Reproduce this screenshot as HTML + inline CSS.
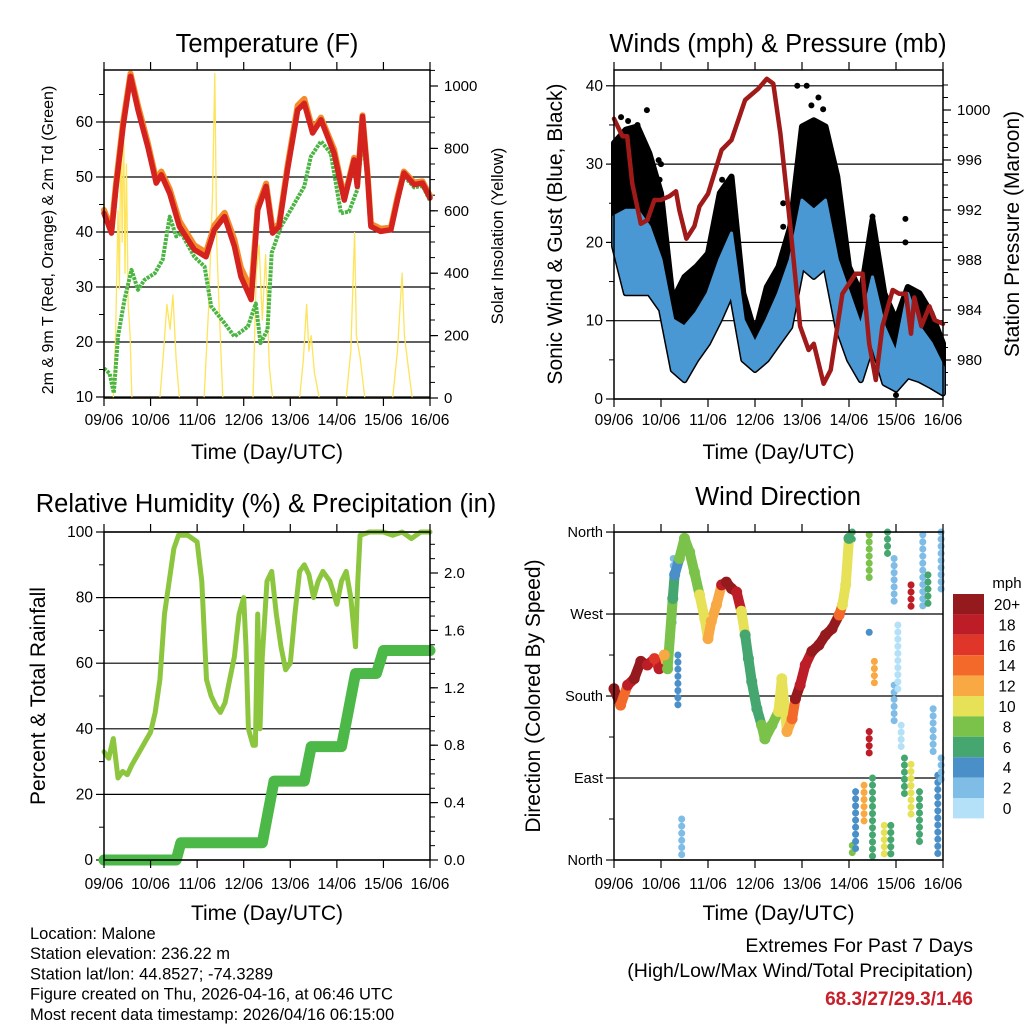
<!DOCTYPE html>
<html><head><meta charset="utf-8"><title>Station Meteogram</title>
<style>
html,body{margin:0;padding:0;background:#fff;}
svg{display:block;font-family:"Liberation Sans",Arial,sans-serif;}
</style></head>
<body>
<svg id="chart" width="1024" height="1024" viewBox="0 0 1024 1024" xmlns="http://www.w3.org/2000/svg">
<rect x="0" y="0" width="1024" height="1024" fill="#fff"/>
</svg>
<script>
// ---------- DATA ----------
const dayLabels = ["09/06","10/06","11/06","12/06","13/06","14/06","15/06","16/06"];

// Temperature panel
const tempTime = [0,0.16,0.26,0.41,0.57,0.73,0.94,1.12,1.23,1.41,1.62,1.94,2.19,2.37,2.59,2.8,2.94,3.16,3.3,3.48,3.62,3.76,3.94,4.16,4.3,4.48,4.66,4.94,5.16,5.37,5.44,5.55,5.66,5.73,5.94,6.16,6.3,6.44,6.66,6.84,7.0];
const tempRed  = [43.4,39.8,48.3,59.2,68.3,62.2,55.5,48.9,50.4,47,41,36.8,35.5,40.4,42.8,37.4,31.9,27.7,44,48.3,39.8,41,51.3,62.2,63.4,58,60.4,54.3,45.8,53.1,48.3,61,50.1,41,40.1,40.4,45.8,50.7,48.6,48.9,46.2];
const tempOrange=[44.0,40.5,49.0,60.0,68.8,63.0,56.2,49.5,51.0,47.8,42,37.6,36.3,41.2,43.5,38.6,33.5,29.5,44.6,48.8,40.5,41.5,52,63,64.2,58.6,60.8,55,46.2,53.5,48.8,61.2,50.5,41.5,40.6,40.8,46.3,51,49,49.2,46.6];
const dewTime = [0,0.12,0.21,0.3,0.44,0.59,0.73,0.87,1.09,1.26,1.41,1.55,1.66,1.94,2.16,2.3,2.59,2.8,3.09,3.26,3.36,3.51,3.6,3.8,4.05,4.3,4.44,4.66,4.87,5.09,5.26,5.44,5.55,5.66,5.73,5.94,6.16,6.3,6.44,6.66,6.84,7.0];
const dewVal  = [15.2,14.3,10.7,21,27.7,33.1,29.5,31.3,32.5,35,42.8,39.2,39.8,35.5,33.7,26.5,23.4,21,22.8,27,19.8,22.2,36.2,41,44.6,48.3,53.7,56.5,54.3,43.4,43.7,47.7,56.8,49.5,41,40,40.3,45.3,50.2,48.1,48.4,45.7];
const solarTime = [0,0.2,0.25,0.3,0.33,0.36,0.39,0.42,0.45,0.48,0.52,0.56,0.6,1.2,1.28,1.35,1.42,1.48,1.55,1.62,2.15,2.25,2.33,2.38,2.42,2.47,2.55,3.2,3.27,3.33,3.4,3.47,3.55,3.62,4.2,4.28,4.35,4.4,4.45,4.52,4.62,5.2,5.3,5.38,5.42,5.5,5.6,6.2,6.3,6.4,6.45,6.55,6.62,7.0];
const solarVal  = [0,0,200,600,350,880,500,900,400,750,300,200,0,0,150,300,220,330,120,0,0,300,650,1040,500,300,0,0,400,490,250,460,100,0,0,120,300,150,200,80,0,0,150,530,200,130,0,0,150,400,200,80,0,0];

// Wind panel
const windTime = [0,0.25,0.5,0.75,1,1.25,1.5,1.75,2,2.25,2.5,2.75,3,3.25,3.5,3.75,4,4.25,4.5,4.75,5,5.25,5.5,5.75,6,6.25,6.5,6.75,7];
const windLow  = [19.5,13.5,13.5,13.5,11.4,3.7,2.4,5,7.1,10.1,13.5,5,3.7,5,7.1,9.2,16.9,15.6,16.9,9.2,5,2.4,7.1,2,1.2,2.9,2.4,1.6,0.7];
const windHigh = [23.3,24.1,24.1,22,17.8,10.1,9.2,11,13.5,17.8,21.2,10.1,7.1,10.1,13.5,17.8,25.4,24.1,25.4,17.8,13.5,9.2,15.6,9.2,5.8,13.5,9.2,7.1,4.1];
const gustHigh = [32.7,34.4,34.8,31.4,26.3,12.6,15.6,16.9,18.6,26.3,28.4,13.5,8.4,14.3,16.9,22,34.8,35.6,34.8,28.4,16.9,13.5,22.9,13.5,10.1,14.3,13.5,11,7.1];
const gustExtraT = [0.7,0.5,0.95,0.97,0.3,2.3,2.55,3.6,3.6,3.9,4.1,4.2,4.35,4.45,5.5,5.5,6.2,6.2,6.0,0.15,1.0];
const gustExtraV = [36.9,35,30.5,28,35.5,28,22.5,25,22,40,40,37.5,38.5,37,23.3,21,23,20,0.5,36,30];
const presTime = [0,0.18,0.28,0.39,0.57,0.71,0.86,1.0,1.18,1.32,1.39,1.54,1.71,1.82,2.0,2.29,2.5,2.79,3.07,3.25,3.39,3.54,3.75,3.96,4.14,4.25,4.46,4.61,4.86,5.14,5.29,5.43,5.57,5.71,5.93,6.07,6.21,6.32,6.39,6.54,6.71,6.82,7.0];
const presVal  = [999.3,997.9,997.9,994.1,990.9,991.2,992.8,992.8,993.1,993.5,992,989.7,990.7,992.3,993.3,996.8,997.6,1000.8,1001.7,1002.5,1002.1,998.1,990.7,982.7,980.8,981.3,978.1,979.2,985.3,986.9,986.9,981.3,978.4,982.7,985.6,985.3,985.3,982.1,985,982.7,984.3,983.2,982.9];

// RH & precip panel
const rhTime = [0,0.1,0.2,0.3,0.4,0.5,0.6,0.8,1.0,1.1,1.2,1.3,1.4,1.5,1.6,1.8,2.0,2.1,2.2,2.3,2.4,2.5,2.6,2.7,2.8,2.9,3.0,3.05,3.1,3.2,3.25,3.3,3.35,3.4,3.5,3.6,3.7,3.8,3.9,4.0,4.1,4.2,4.3,4.4,4.5,4.6,4.7,4.85,5.0,5.1,5.2,5.3,5.4,5.45,5.5,5.7,6.0,6.2,6.4,6.6,6.8,7.0];
const rhVal  = [33,31,37,25,27,26,29,34,39,45,55,75,85,95,99,99,97,85,55,50,47,45,48,55,62,75,80,65,40,35,35,75,40,62,85,88,75,65,58,60,75,88,90,87,80,85,88,85,78,85,88,80,65,85,99,100,100,99,100,98,100,100];
const precipTime = [0,1.55,1.65,3.4,3.65,4.3,4.45,5.1,5.4,5.85,6.0,7.0];
const precipVal  = [0,0,0.12,0.12,0.55,0.55,0.79,0.79,1.3,1.3,1.46,1.46];

// Wind direction panel
const dirTime  = [0,0.14,0.29,0.43,0.57,0.71,0.86,0.96,1.07,1.14,1.25,1.29,1.39,1.5,1.61,1.71,1.82,1.93,2.0,2.07,2.18,2.29,2.39,2.5,2.61,2.71,2.79,2.86,2.93,3.04,3.14,3.21,3.36,3.5,3.57,3.68,3.79,3.86,3.96,4.07,4.21,4.36,4.5,4.64,4.79,4.86,4.93,5.0];
const dirDeg   = [188,170,192,199,218,214,221,210,225,210,287,313,331,353,338,316,291,265,243,262,280,302,305,298,294,273,247,221,196,166,148,133,148,163,199,141,155,177,192,214,229,236,247,254,269,280,302,353];
const dirSpeed = [20,14,18,20,20,18,16,18,12,8,6,4,8,8,8,8,10,10,12,12,12,18,20,20,18,10,6,6,6,6,8,8,8,10,10,12,14,20,18,18,20,20,20,20,14,10,10,6];
const streakTime  = [1.44,5.07,5.07,5.14,5.32,5.43,5.43,5.43,5.54,5.5,5.75,5.82,5.89,5.96,5.96,6.04,6.11,6.18,6.32,6.32,6.5,6.57,6.68,6.79,6.89,6.96,6.96,1.26,1.36];
const streakTop   = [45,16,360,75,82,357,250,141,218,90,38,360,38,331,192,258,148,112,302,105,75,357,313,166,93,360,112,331,225];
const streakBot   = [2,2,346,5,38,309,243,112,192,2,2,331,2,284,148,185,119,68,273,45,16,276,280,112,2,294,83,258,166];
const streakSpeed = [2,8,6,4,12,8,4,18,13,6,10,6,6,2,3,1,1,6,18,10,6,2,6,3,5,2,2,3,4];

const speedColors = ["#b5e1f8","#7fbce6","#4a8fc8","#45a670","#7ac24a","#e6e157","#f9a943","#f2692a","#df3629","#bc1d27","#951a1d"];
const speedLabels = ["0","2","4","6","8","10","12","14","16","18","20+"];

// ---------- HELPERS ----------
const NS = "http://www.w3.org/2000/svg";
const svg = document.getElementById("chart");
function mk(tag, attrs, parent) {
  const e = document.createElementNS(NS, tag);
  for (const k in attrs) e.setAttribute(k, attrs[k]);
  (parent || svg).appendChild(e);
  return e;
}
function txt(s, x, y, size, anchor, parent, extra) {
  const t = mk("text", Object.assign({x: x, y: y, "font-size": size, "text-anchor": anchor || "middle", fill: "#000"}, extra || {}), parent);
  t.textContent = s;
  return t;
}
function pathFrom(xs, ys, sx, sy) {
  let d = "";
  for (let i = 0; i < xs.length; i++) d += (i ? "L" : "M") + sx(xs[i]).toFixed(1) + " " + sy(ys[i]).toFixed(1);
  return d;
}

function panel(name, X0, X1, Y0, Y1) {
  const g = mk("g", {});
  
  
  return {g, X0, X1, Y0, Y1, sx: t => X0 + t * (X1 - X0) / 7};
}

function frame(p, title, xtitleY, ticksY) {
  const ax = mk("g", {}, p.g);
  
  
  for (let d = 0; d <= 7; d++) {
    const x = p.sx(d);
    mk("line", {x1: x, x2: x, y1: p.Y1, y2: p.Y1 + 8, stroke: "#000", "stroke-width": 1.2}, ax);
    mk("line", {x1: x, x2: x, y1: p.Y0, y2: p.Y0 - 8, stroke: "#000", "stroke-width": 1.2}, ax);
    const l = txt(dayLabels[d], x, ticksY, 15.5, "middle", ax);
    
    
  }
  const xt = txt("Time (Day/UTC)", (p.X0 + p.X1) / 2, xtitleY, 21, "middle", p.g);
  
  
  const tt = txt(title[0], title[1], title[2], 25.5, "middle", p.g);
  
  
}
function box(p) {
  const b = mk("rect", {x: p.X0, y: p.Y0, width: p.X1 - p.X0, height: p.Y1 - p.Y0, fill: "none", stroke: "#000", "stroke-width": 1.5}, p.g);
  
  
}
function leftAxis(p, vals, labels, sy, minors, grid, fs) {
  const g = mk("g", {}, p.g);
  
  
  vals.forEach((v, i) => {
    const y = sy(v);
    if (grid) mk("line", {x1: p.X0, x2: p.X1, y1: y, y2: y, stroke: "#000", "stroke-width": 1.2}, g);
    mk("line", {x1: p.X0 - 8, x2: p.X0, y1: y, y2: y, stroke: "#000", "stroke-width": 1.2}, g);
    const l = txt(labels[i], p.X0 - 11, y + 5, fs || 15.5, "end", g);
    
    
  });
  (minors || []).forEach(v => {
    const y = sy(v);
    mk("line", {x1: p.X0 - 5, x2: p.X0, y1: y, y2: y, stroke: "#000", "stroke-width": 1}, g);
  });
}
function rightAxis(p, vals, labels, sy, minors) {
  const g = mk("g", {}, p.g);
  
  
  vals.forEach((v, i) => {
    const y = sy(v);
    mk("line", {x1: p.X1, x2: p.X1 + 8, y1: y, y2: y, stroke: "#000", "stroke-width": 1.2}, g);
    const l = txt(labels[i], p.X1 + 14, y + 5, 15, "start", g);
    
    
  });
  (minors || []).forEach(v => {
    const y = sy(v);
    mk("line", {x1: p.X1, x2: p.X1 + 5, y1: y, y2: y, stroke: "#000", "stroke-width": 1}, g);
  });
}
function vTitle(s, x, y, size, name, parent) {
  const t = txt(s, x, y, size, "middle", parent, {transform: "rotate(-90 " + x + " " + y + ")"});
  
  
}
function range(a, b, s) { const r = []; for (let v = a; v <= b + 1e-9; v += s) r.push(+v.toFixed(4)); return r; }

// ---------- PANEL 1: TEMPERATURE ----------
{
  const p = panel("temperature-panel", 104, 430, 70, 398);
  const sy = v => 397 - (v - 10) * 5.5;
  const sy2 = v => 398 - v * 0.312;
  leftAxis(p, [10,20,30,40,50,60], ["10","20","30","40","50","60"], sy, [15,25,35,45,55,65], true);
  rightAxis(p, [0,200,400,600,800,1000], ["0","200","400","600","800","1000"], sy2, range(50,1050,50));
  const sol = mk("path", {d: pathFrom(solarTime, solarVal, p.sx, sy2), fill: "none", stroke: "#fde45a", "stroke-width": 1.3, "stroke-linejoin": "round"}, p.g);
  
  
  const dw = mk("path", {d: pathFrom(dewTime, dewVal, p.sx, sy), fill: "none", stroke: "#4bb543", "stroke-width": 4, "stroke-dasharray": "3 1", "stroke-linejoin": "round"}, p.g);
  
  
  const to = mk("path", {d: pathFrom(tempTime, tempOrange, p.sx, sy), fill: "none", stroke: "#f58a2a", "stroke-width": 6, "stroke-linejoin": "round", "stroke-linecap": "round"}, p.g);
  
  
  const tr = mk("path", {d: pathFrom(tempTime, tempRed, p.sx, sy), fill: "none", stroke: "#d4231f", "stroke-width": 5.5, "stroke-linejoin": "round", "stroke-linecap": "round"}, p.g);
  
  
  box(p);
  frame(p, ["Temperature (F)", 267, 52], 459, 425);
  vTitle("2m & 9m T (Red, Orange) & 2m Td (Green)", 53, 240, 16, "y-axis-title", p.g);
  vTitle("Solar Insolation (Yellow)", 503, 236, 16.5, "y2-axis-title", p.g);
}

// ---------- PANEL 2: WINDS ----------
{
  const p = panel("winds-panel", 614, 943, 70, 399);
  const sy = v => 399 - v * 7.83;
  const sy2 = v => 360 - (v - 980) * 12.5;
  leftAxis(p, [0,10,20,30,40], ["0","10","20","30","40"], sy, [5,15,25,35], true);
  rightAxis(p, [980,984,988,992,996,1000], ["980","984","988","992","996","1000"], sy2, range(978,1002,1));
  let dB = "";
  windTime.forEach((t, i) => dB += (i ? "L" : "M") + p.sx(t).toFixed(1) + " " + sy(gustHigh[i]).toFixed(1));
  for (let i = windTime.length - 1; i >= 0; i--) dB += "L" + p.sx(windTime[i]).toFixed(1) + " " + sy(windLow[i]).toFixed(1);
  const gb = mk("path", {d: dB + "Z", fill: "#000", stroke: "#000", "stroke-width": 6, "stroke-linejoin": "round"}, p.g);
  
  
  gustExtraT.forEach((t, i) => {
    const c = mk("circle", {cx: p.sx(t), cy: sy(gustExtraV[i]), r: 3, fill: "#000"}, p.g);
    
    
  });
  let dW = "";
  windTime.forEach((t, i) => dW += (i ? "L" : "M") + p.sx(t).toFixed(1) + " " + sy(windHigh[i]).toFixed(1));
  for (let i = windTime.length - 1; i >= 0; i--) dW += "L" + p.sx(windTime[i]).toFixed(1) + " " + sy(windLow[i]).toFixed(1);
  const wb = mk("path", {d: dW + "Z", fill: "#4a98d3", stroke: "#4a98d3", "stroke-width": 3, "stroke-linejoin": "round"}, p.g);
  
  
  const pr = mk("path", {d: pathFrom(presTime, presVal, p.sx, sy2), fill: "none", stroke: "#a01a1a", "stroke-width": 4.5, "stroke-linejoin": "round", "stroke-linecap": "round"}, p.g);
  
  
  box(p);
  frame(p, ["Winds (mph) & Pressure (mb)", 778, 52], 459, 425);
  vTitle("Sonic Wind & Gust (Blue, Black)", 562, 234, 21, "y-axis-title", p.g);
  vTitle("Station Pressure (Maroon)", 1019, 234, 21, "y2-axis-title", p.g);
}

// ---------- PANEL 3: RH & PRECIP ----------
{
  const p = panel("humidity-precip-panel", 104, 430, 532, 860);
  const sy = v => 860 - v * 3.28;
  const sy2 = v => 860 - v * 143.5;
  leftAxis(p, [0,20,40,60,80,100], ["0","20","40","60","80","100"], sy, [10,30,50,70,90], true);
  rightAxis(p, [0,0.4,0.8,1.2,1.6,2.0], ["0.0","0.4","0.8","1.2","1.6","2.0"], sy2, range(0.1,2.2,0.1));
  const rh = mk("path", {d: pathFrom(rhTime, rhVal, p.sx, sy), fill: "none", stroke: "#8cc63f", "stroke-width": 5, "stroke-linejoin": "round", "stroke-linecap": "round"}, p.g);
  
  
  const pc = mk("path", {d: pathFrom(precipTime, precipVal, p.sx, sy2), fill: "none", stroke: "#4cb847", "stroke-width": 11, "stroke-linejoin": "round", "stroke-linecap": "round"}, p.g);
  
  
  box(p);
  frame(p, ["Relative Humidity (%) & Precipitation (in)", 266, 512], 920, 889);
  vTitle("Percent & Total Rainfall", 45, 696, 21, "y-axis-title", p.g);
}

// ---------- PANEL 4: WIND DIRECTION ----------
{
  const p = panel("wind-direction-panel", 614, 943, 532, 860);
  const sy = d => 860 - d * 0.911;
  leftAxis(p, [0,90,180,270,360], ["North","East","South","West","North"], sy, [45,135,225,315], true, 14.5);
  rightAxis(p, [], [], sy, []);
  const col = s => speedColors[Math.min(10, Math.floor(s / 2))];
  streakTime.forEach((t, i) => {
    const l = mk("line", {x1: p.sx(t), x2: p.sx(t), y1: sy(streakTop[i]), y2: sy(streakBot[i]), stroke: col(streakSpeed[i]), "stroke-width": 7, "stroke-linecap": "round", "stroke-dasharray": "0.1 7"}, p.g);
    
    
  });
  for (let i = 0; i < dirTime.length - 1; i++) {
    const s = mk("line", {x1: p.sx(dirTime[i]), y1: sy(dirDeg[i]), x2: p.sx(dirTime[i + 1]), y2: sy(dirDeg[i + 1]), stroke: col(dirSpeed[i]), "stroke-width": 10, "stroke-linecap": "round"}, p.g);
    
    
  }
  dirTime.forEach((t, i) => {
    const c = mk("circle", {cx: p.sx(t), cy: sy(dirDeg[i]), r: 5.5, fill: col(dirSpeed[i])}, p.g);
    
    
  });
  box(p);
  frame(p, ["Wind Direction", 778, 505], 920, 889);
  vTitle("Direction (Colored By Speed)", 540, 696, 21, "y-axis-title", p.g);
  const lg = mk("g", {});
  
  
  const mph = txt("mph", 1007, 588, 15, "middle", lg);
  
  
  for (let k = 10; k >= 0; k--) {
    const y = 594 + (10 - k) * 20.4;
    const r = mk("rect", {x: 953, y: y, width: 31, height: 20.4, fill: speedColors[k]}, lg);
    
    
    const l = txt(speedLabels[k], 1007, y + 16, 15.5, "middle", lg);
    
    
  }
}

// ---------- FOOTER ----------
{
  const g = mk("g", {});
  
  
  ["Location: Malone","Station elevation: 236.22 m","Station lat/lon: 44.8527; -74.3289","Figure created on Thu, 2026-04-16, at 06:46 UTC","Most recent data timestamp: 2026/04/16 06:15:00"].forEach((s, i) => {
    const t = txt(s, 30, 939 + i * 20.2, 16.5, "start", g);
    
    
  });
  const e = mk("g", {});
  
  
  const a = txt("Extremes For Past 7 Days", 973, 952, 19.5, "end", e);
  
  
  const b = txt("(High/Low/Max Wind/Total Precipitation)", 973, 977, 19.5, "end", e);
  
  
  const c = txt("68.3/27/29.3/1.46", 973, 1005, 19, "end", e, {fill: "#c8202a", "font-weight": "bold"});
  
  
}
</script>
</body></html>
